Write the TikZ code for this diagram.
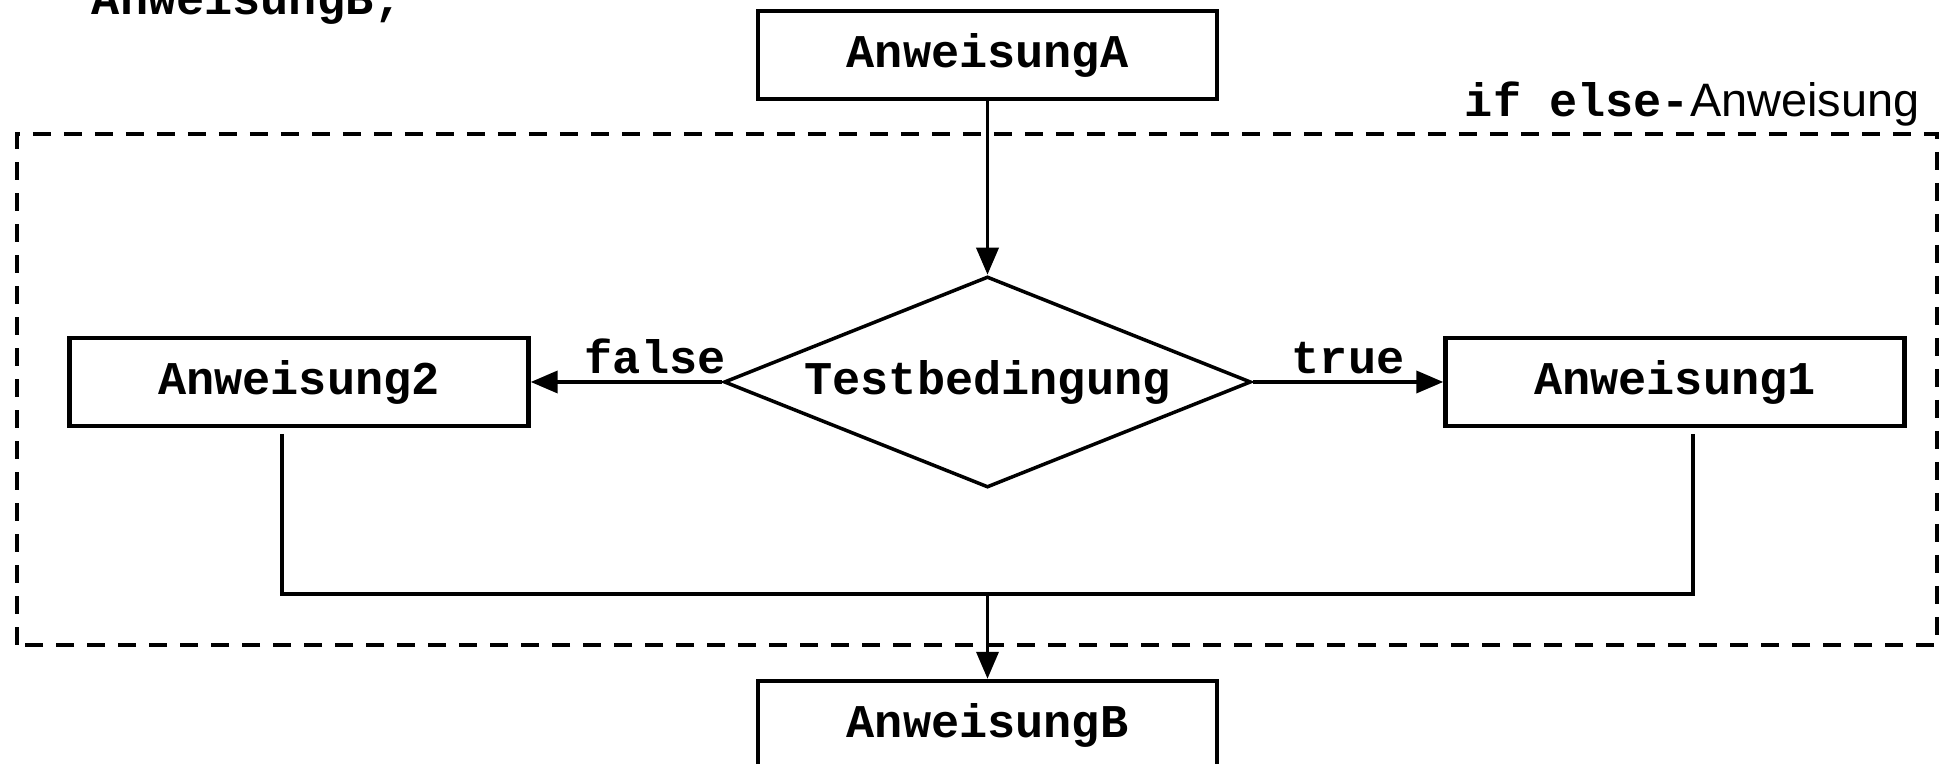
\documentclass[tikz,border=0pt]{standalone}
\usepackage{fontspec}
\setmonofont{Liberation Mono}
\setsansfont{Liberation Sans}
\usetikzlibrary{shapes.geometric}
\usetikzlibrary{arrows.meta}
\newcommand{\kw}[1]{{\ttfamily\bfseries #1}}

\begin{document}
\begin{tikzpicture}[
    >={Triangle[length=0.54cm,width=0.44cm]},
    font=\fontsize{26.7}{32}\selectfont,
    box/.style={draw, line width=2.5pt, minimum width=9.18cm, minimum height=1.76cm, font=\fontsize{26.7}{32}\selectfont\ttfamily\bfseries},
    cond/.style={draw, diamond, aspect=2.5, line width=2pt, inner sep=0pt, minimum width=10.54cm, minimum height=4.22cm, font=\fontsize{26.7}{32}\selectfont\ttfamily\bfseries},
    flow/.style={line width=2.1pt},
    frame/.style={line width=2.45pt, dash pattern=on 0.36cm off 0.26cm}]
    \clip (0,0) rectangle (38.78,15.28);
    \node[anchor=base west, inner sep=0pt] (next) at (1.83,14.98) {\kw{AnweisungB;}};
    \node[box] (a) at (19.75,14.18) {AnweisungA};
    \node[box] (b) at (19.75,0.78) {AnweisungB};
    \node[cond] (test) at (19.75,7.64) {Testbedingung};
    \node[box] (a2) at (5.98,7.64) {Anweisung2};
    \node[box] (a1) at (33.50,7.64) {Anweisung1};
    \draw[frame] (0.34,2.38) rectangle (38.74,12.60);
    \node[anchor=base east, inner sep=0pt] (title) at (38.40,12.94) {\kw{if else-}\sffamily Anweisung};
    \draw[flow,->] (a) -- (test);
    \draw[flow,->] (test) -- node[pos=0.35, above] {\kw{false}} (a2);
    \draw[flow,->] (test) -- node[pos=0.5, above] {\kw{true}} (a1);
    \coordinate (l1) at (5.64,6.60);
    \coordinate (l2) at (5.64,3.40);
    \coordinate (r1) at (33.86,6.60);
    \coordinate (r2) at (33.86,3.40);
    \coordinate (join) at (19.75,3.40);
    \draw[flow] (l1) -- (l2) -- (r2) -- (r1);
    \draw[flow,->] (join) -- (b);
\end{tikzpicture}
\end{document}
